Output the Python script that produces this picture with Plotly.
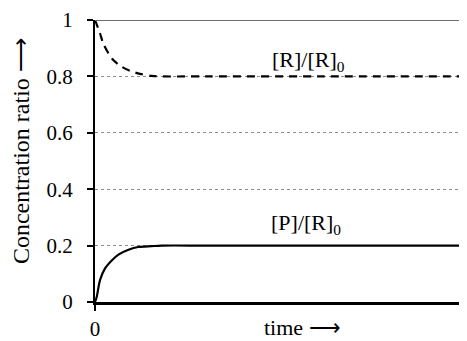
import plotly.graph_objects as go

# Data (time in arbitrary units)
time_p = [0, 0.046, 0.134, 0.27, 0.45, 0.63, 0.9, 1.16, 1.52, 1.79, 3.0, 6.0, 10.0]
p_ratio = [0, 0.018, 0.077, 0.119, 0.147, 0.168, 0.185, 0.195, 0.198, 0.2, 0.2, 0.2, 0.2]

time_r = [0, 0.134, 0.22, 0.36, 0.49, 0.72, 0.94, 1.21, 1.52, 1.75, 3.0, 6.0, 10.0]
r_ratio = [1.0, 0.953, 0.917, 0.882, 0.858, 0.834, 0.820, 0.809, 0.802, 0.8, 0.8, 0.8, 0.8]

y_tickvals = [0, 0.2, 0.4, 0.6, 0.8, 1]
y_ticktext = ["0", "0.2", "0.4", "0.6", "0.8", "1"]

FONT = "Liberation Serif"
TICKFONT = dict(family=FONT, size=21, color="black")

fig = go.Figure()
fig.add_trace(go.Scatter(x=time_r, y=r_ratio, mode="lines",
                         line=dict(color="black", width=2.2, dash="8px,6px", shape="spline", smoothing=0.8),
                         showlegend=False, hoverinfo="skip"))
fig.add_trace(go.Scatter(x=time_p, y=p_ratio, mode="lines",
                         line=dict(color="black", width=2.2, shape="spline", smoothing=0.8),
                         showlegend=False, hoverinfo="skip"))

fig.add_shape(type="line", xref="paper", yref="y", x0=0, x1=1, y0=1, y1=1,
              line=dict(color="#6e6e6e", width=2), layer="above")

fig.add_annotation(x=5.75, y=0.855, xref="x", yref="y", text="[R]/[R]<sub>0</sub>",
                   showarrow=False, font=dict(family=FONT, size=22, color="black"))
fig.add_annotation(x=5.67, y=0.277, xref="x", yref="y", text="[P]/[R]<sub>0</sub>",
                   showarrow=False, font=dict(family=FONT, size=22, color="black"))
fig.add_annotation(x=0.559, y=-0.089, xref="paper", yref="paper", text="time ⟶",
                   showarrow=False, yanchor="middle",
                   font=dict(family=FONT, size=22, color="black"))
fig.add_annotation(x=-0.199, y=0.535, xref="paper", yref="paper", text="Concentration ratio ⟶",
                   showarrow=False, textangle=-90, xanchor="center", yanchor="middle",
                   font=dict(family=FONT, size=24, color="black"))

# The page adds an 8px body margin, so the figure is 8px smaller and shifted.
fig.update_layout(
    width=459, height=333,
    margin=dict(l=87, r=0, t=12, b=31),
    paper_bgcolor="white", plot_bgcolor="white",
    font=dict(family=FONT, size=22, color="black"),
    xaxis=dict(range=[0, 10], tickvals=[0], ticktext=["0"], ticks="outside", ticklen=6,
               tickwidth=1.5, tickcolor="black", showline=True, linecolor="black", linewidth=2.5,
               showgrid=False, zeroline=False, fixedrange=True, tickfont=TICKFONT),
    yaxis=dict(range=[0, 1], tickvals=y_tickvals, ticktext=y_ticktext, ticks="outside",
               ticklen=6, tickwidth=1.5, tickcolor="black", showline=True, linecolor="black",
               linewidth=2, showgrid=True, gridcolor="#8c8c8c", griddash="dot", gridwidth=1,
               zeroline=False, ticklabelstandoff=10, fixedrange=True, tickfont=TICKFONT),
)

fig.write_html("out.html")
